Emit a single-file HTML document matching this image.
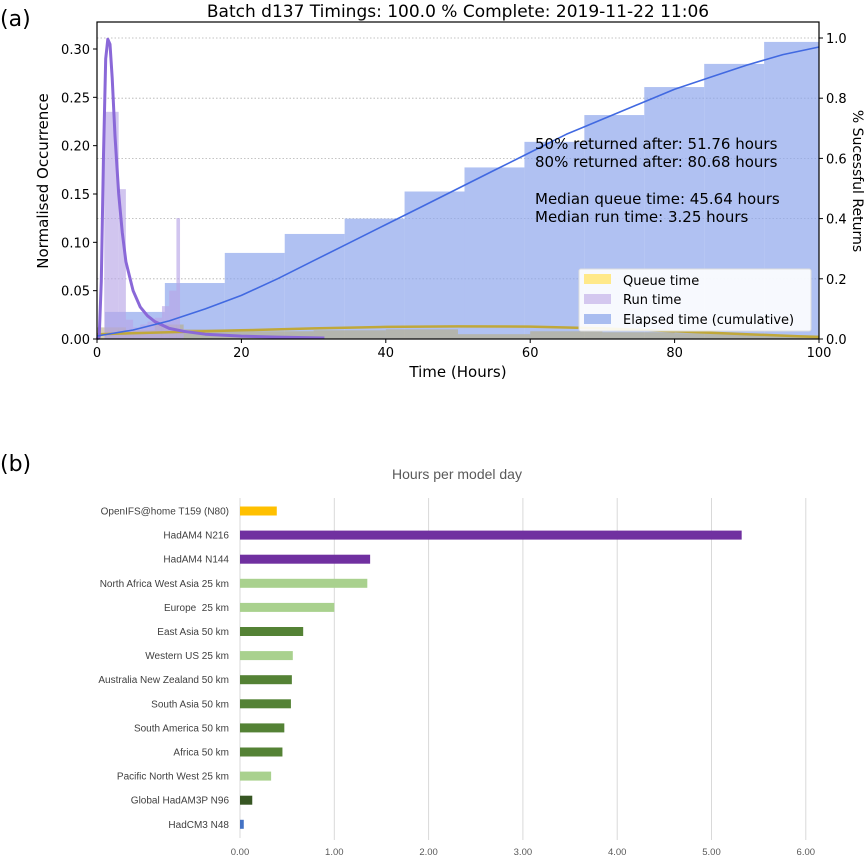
<!DOCTYPE html>
<html><head><meta charset="utf-8"><style>
body{margin:0;background:#fff;width:866px;height:856px;overflow:hidden;font-family:"DejaVu Sans","Liberation Sans",sans-serif}
svg{position:absolute;left:0;top:0}
text{white-space:pre}
</style></head><body>
<svg id="s" width="866" height="856" xmlns="http://www.w3.org/2000/svg">
<text x="0" y="26" font-size="22">(a)</text>
<text x="0" y="471" font-size="22">(b)</text>
<text x="458" y="17" font-size="17" text-anchor="middle">Batch d137 Timings: 100.0 % Complete: 2019-11-22 11:06</text>
<g id="ga"></g>
</svg>
<script>
const NS='http://www.w3.org/2000/svg';
function mk(p,t,a){const e=document.createElementNS(NS,t);for(const k in a)e.setAttribute(k,a[k]);p.appendChild(e);return e;}
// ---- chart A data ----
const elapsedEdges=[1.1,9.4,17.7,26.0,34.3,42.6,50.9,59.2,67.5,75.8,84.1,92.4,100];
const elapsedFrac=[0.09,0.186,0.286,0.349,0.40,0.49,0.57,0.655,0.744,0.837,0.914,0.987];
const cumHours=[0,5,10,15,20,25,30,35,40,45,50,55,60,65,70,75,80,85,90,95,100];
const cumFrac=[0.01,0.03,0.06,0.1,0.145,0.2,0.26,0.32,0.38,0.44,0.5,0.56,0.62,0.68,0.73,0.78,0.83,0.87,0.91,0.945,0.97];
const runEdges=[1.0,3.0,4.0,5.0,6.0,7.0,8.0,9.0,10.0,11.0,11.5,12.0];
const runVals=[0.235,0.155,0.02,0.012,0.015,0.018,0.022,0.034,0.05,0.125,0.01];
const runKdeH=[0,0.3,0.6,0.9,1.2,1.5,1.8,2.1,2.5,3,3.5,4,5,6,7,8,10,12,15,20,25,31.5];
const runKdeV=[0,0.002,0.06,0.19,0.29,0.31,0.305,0.27,0.21,0.15,0.11,0.08,0.05,0.033,0.024,0.018,0.011,0.008,0.005,0.003,0.002,0.001];
const queueEdges=[0,4,8,12,20,30,40,50,60,70,80,90,100];
const queueVals=[0.012,0.009,0.015,0.01,0.008,0.009,0.01,0.005,0.008,0.007,0.006,0.004];
const queueKdeH=[0,10,20,30,40,50,60,70,80,90,100];
const queueKdeV=[0.005,0.007,0.009,0.011,0.0125,0.013,0.0128,0.011,0.008,0.005,0.002];
const leftTicks=[0,0.05,0.10,0.15,0.20,0.25,0.30];
const rightTicks=[0,0.2,0.4,0.6,0.8,1.0];
const xTicksA=[0,20,40,60,80,100];
const L=97,R=819,T=22,B=339;
const xa=h=>L+h/100*(R-L);
const yl=v=>B-v*966.7;
const yr=v=>B-v*301;
const ga=document.getElementById('ga');
rightTicks.forEach(v=>{if(v>0){const g=mk(ga,'line',{x1:L,x2:R,y1:yr(v),y2:yr(v),stroke:'#b0b0b0','stroke-dasharray':'1.5,2','stroke-width':0.8});

}});
elapsedFrac.forEach((v,i)=>{const r=mk(ga,'rect',{x:xa(elapsedEdges[i]),y:yr(v),width:xa(elapsedEdges[i+1])-xa(elapsedEdges[i]),height:B-yr(v),fill:'#8fa6ec','fill-opacity':0.7});

});
queueVals.forEach((v,i)=>{const r=mk(ga,'rect',{x:xa(queueEdges[i]),y:yl(v),width:xa(queueEdges[i+1])-xa(queueEdges[i]),height:B-yl(v),fill:'#b8ae80','fill-opacity':0.6});

});
runVals.forEach((v,i)=>{const r=mk(ga,'rect',{x:xa(runEdges[i]),y:yl(v),width:xa(runEdges[i+1])-xa(runEdges[i]),height:B-yl(v),fill:'#b9a6e6','fill-opacity':0.65});

});
function line(hs,vs,yf,col,w,name){const d=hs.map((h,i)=>(i?'L':'M')+xa(h).toFixed(1)+','+yf(vs[i]).toFixed(1)).join('');
const p=mk(ga,'path',{d:d,fill:'none',stroke:col,'stroke-width':w,'stroke-linejoin':'round'});

}
line(queueKdeH,queueKdeV,yl,'#c0a83a',2.5,'queue-kde-line');
line(runKdeH,runKdeV,yl,'#8a68d8',3,'run-kde-line');
line(cumHours,cumFrac,yr,'#4169e1',1.6,'cumulative-line');
const fr=mk(ga,'rect',{x:L,y:T,width:R-L,height:B-T,fill:'none',stroke:'#000','stroke-width':1.2});


leftTicks.forEach(v=>{mk(ga,'line',{x1:L-4,x2:L,y1:yl(v),y2:yl(v),stroke:'#000'});
const t=mk(ga,'text',{x:L-7,y:yl(v)+5,'font-size':13,'text-anchor':'end'});t.textContent=v.toFixed(2);

});
rightTicks.forEach(v=>{mk(ga,'line',{x1:R,x2:R+4,y1:yr(v),y2:yr(v),stroke:'#000'});
const t=mk(ga,'text',{x:R+7,y:yr(v)+5,'font-size':13});t.textContent=v.toFixed(1);

});
xTicksA.forEach(v=>{mk(ga,'line',{x1:xa(v),x2:xa(v),y1:B,y2:B+4,stroke:'#000'});
const t=mk(ga,'text',{x:xa(v),y:B+18,'font-size':13,'text-anchor':'middle'});t.textContent=v;

});
</script>
<svg width="866" height="856" xmlns="http://www.w3.org/2000/svg">
<text x="458" y="377" font-size="15" text-anchor="middle">Time (Hours)</text>
<text transform="translate(48,181) rotate(-90)" font-size="15" text-anchor="middle">Normalised Occurrence</text>
<text transform="translate(853,181) rotate(90)" font-size="14" text-anchor="middle">% Sucessful Returns</text>
<g font-size="15">
<text x="535" y="149">50% returned after: 51.76 hours</text>
<text x="535" y="167">80% returned after: 80.68 hours</text>
<text x="535" y="204">Median queue time: 45.64 hours</text>
<text x="535" y="222">Median run time: 3.25 hours</text>
</g>
<g>
<rect x="579" y="269" width="232" height="62" rx="2" fill="#fff" fill-opacity="0.9" stroke="#ddd"/>
<rect x="584" y="274" width="27" height="10" fill="#ffe98a"/><text x="623" y="285" font-size="13">Queue time</text>
<rect x="584" y="294" width="27" height="10" fill="#d4c8ef"/><text x="623" y="304" font-size="13">Run time</text>
<rect x="584" y="314" width="27" height="10" fill="#a9bdf0"/><text x="623" y="324" font-size="13">Elapsed time (cumulative)</text>
</g>
</svg>
<svg id="s2" width="866" height="856" xmlns="http://www.w3.org/2000/svg">
<text x="457" y="479" font-size="14" fill="#595959" text-anchor="middle" font-family="Liberation Sans,sans-serif">Hours per model day</text>
<g id="gb2"></g>
</svg>
<script>
const models=["OpenIFS@home T159 (N80)","HadAM4 N216","HadAM4 N144","North Africa West Asia 25 km","Europe  25 km","East Asia 50 km","Western US 25 km","Australia New Zealand 50 km","South Asia 50 km","South America 50 km","Africa 50 km","Pacific North West 25 km","Global HadAM3P N96","HadCM3 N48"];
const hoursPerDay=[0.39,5.32,1.38,1.35,1.0,0.67,0.56,0.55,0.54,0.47,0.45,0.33,0.13,0.04];
const barColors=["#ffc000","#7030a0","#7030a0","#a9d18e","#a9d18e","#548235","#a9d18e","#548235","#548235","#548235","#548235","#a9d18e","#375623","#4472c4"];
const xTicksB=[0,1,2,3,4,5,6];
const X0=240,PX=94.3,Y0=511,DY=24.1;
const xb=v=>X0+v*PX;
const gb=document.getElementById('gb2');
xTicksB.forEach(v=>{if(v>0){const l=mk(gb,'line',{x1:xb(v),x2:xb(v),y1:498,y2:840,stroke:'#d9d9d9'});

}
const t=mk(gb,'text',{x:xb(v),y:855,'font-size':9.5,'text-anchor':'middle',fill:'#595959','font-family':'Liberation Sans,sans-serif'});t.textContent=v.toFixed(2);

});
const ax=mk(gb,'line',{x1:X0,x2:X0,y1:498,y2:838,stroke:'#d9d9d9'});


models.forEach((m,i)=>{const y=Y0+i*DY;
const r=mk(gb,'rect',{x:X0,y:y-4.5,width:hoursPerDay[i]*PX,height:9,fill:barColors[i]});


const t=mk(gb,'text',{x:229,y:y+3.5,'font-size':10,'text-anchor':'end',fill:'#404040','font-family':'Liberation Sans,sans-serif'});t.textContent=m;

});
</script>
</body></html>
